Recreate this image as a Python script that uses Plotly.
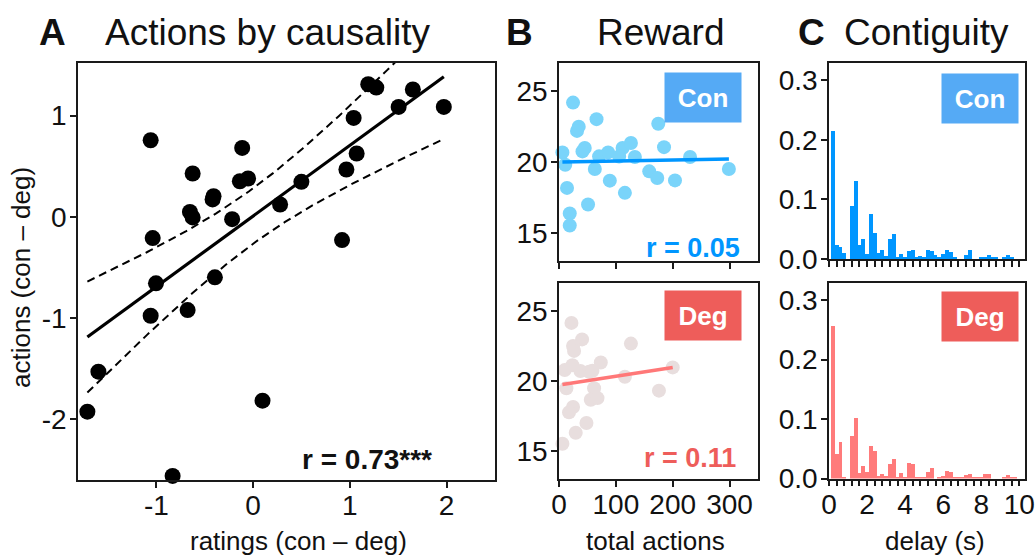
import numpy as np
import plotly.graph_objects as go

W, H = 1035, 559
FONT = "Liberation Sans, Arial, Helvetica, sans-serif"
INK = "#111111"
AXIS = "#1a1a1a"

# ---- A: causality ratings vs. actions (con - deg), z-scored ----
ratings_diff = [-1.059, -0.625, -0.113, -0.137, -0.052, -0.409, -0.419, -0.653, -0.625, -0.217,
                0.279, 0.499, -1.038, 0.919, 0.964, 1.070, 1.039, 1.190, 1.273, 1.504,
                1.651, 1.971, -1.004, -0.395, -1.059, -0.677, -1.599, -1.713, 0.097, -0.832]
actions_diff = [0.757, 0.428, 0.681, 0.352, 0.379, 0.204, 0.172, 0.049, -0.006, -0.023,
                0.122, 0.346, -0.210, -0.230, 0.468, 0.626, 0.977, 1.310, 1.277, 1.086,
                1.258, 1.086, -0.657, -0.598, -0.977, -0.921, -1.530, -1.925, -1.816, -2.560]
r_causality = "r = 0.73***"

# ---- B: total actions vs. reward ----
con_actions = [24.7, 66.0, 34.7, 31.7, 174.6, 6.0, 45.3, 41.3, 184.7, 70.5,
               86.4, 111.8, 126.5, 105.8, 133.5, 11.0, 63.0, 158.7, 172.8, 89.4,
               204.0, 14.1, 115.9, 51.1, 18.9, 18.9, 230.5, 298.8]
con_reward = [24.20, 23.03, 22.50, 22.20, 22.70, 20.68, 20.99, 20.75, 21.05, 20.40,
              20.68, 20.99, 21.34, 20.39, 20.35, 19.81, 19.50, 19.34, 18.87, 18.68,
              18.70, 18.17, 17.82, 17.00, 16.36, 15.51, 20.35, 19.50]
deg_actions = [21.9, 40.6, 24.7, 26.5, 126.5, 73.5, 10.0, 23.6, 37.7, 52.9,
               58.9, 115.9, 200.0, 13.0, 61.7, 175.8, 55.9, 67.7, 24.7, 17.6,
               48.3, 29.4, 6.0]
deg_reward = [24.15, 22.97, 22.50, 22.15, 22.67, 21.32, 20.78, 21.13, 20.71, 20.66,
              20.73, 20.30, 20.97, 19.48, 19.48, 19.31, 18.66, 18.78, 18.14, 17.76,
              17.00, 16.30, 15.52]
r_con = "r = 0.05"
r_deg = "r = 0.11"

# ---- C: action-outcome delay distributions (0.2 s bins) ----
delay_bins = [round(0.2 * k, 1) for k in range(1, 51)]
con_delay = [0.215, 0.024, 0.020, 0.010, 0.000, 0.089, 0.131, 0.024, 0.034, 0.009,
             0.076, 0.044, 0.010, 0.015, 0.005, 0.034, 0.042, 0.004, 0.008, 0.004,
             0.014, 0.015, 0.002, 0.005, 0.002, 0.015, 0.014, 0.007, 0.004, 0.009,
             0.015, 0.012, 0.002, 0.000, 0.000, 0.007, 0.015, 0.000, 0.000, 0.004,
             0.004, 0.007, 0.002, 0.002, 0.000, 0.004, 0.007, 0.002, 0.000, 0.000]
deg_delay = [0.256, 0.041, 0.061, 0.001, 0.000, 0.071, 0.102, 0.009, 0.021, 0.011,
             0.055, 0.046, 0.004, 0.007, 0.004, 0.024, 0.033, 0.002, 0.009, 0.002,
             0.026, 0.024, 0.002, 0.002, 0.001, 0.011, 0.017, 0.000, 0.002, 0.004,
             0.012, 0.011, 0.001, 0.001, 0.001, 0.006, 0.007, 0.002, 0.002, 0.002,
             0.007, 0.007, 0.000, 0.000, 0.000, 0.002, 0.006, 0.001, 0.001, 0.000]

CON_DOT, CON_LINE, CON_BOX = "#7ad4fa", "#0096ff", "#55aaf5"
DEG_DOT, DEG_LINE, DEG_BOX = "#e8dede", "#ff7878", "#ee5d5a"
CON_BAR, DEG_BAR = "#0096ff", "#ff7b7b"


def fit_line(x, y):
    x = np.asarray(x, float)
    y = np.asarray(y, float)
    slope, icpt = np.polyfit(x, y, 1)
    xs = np.linspace(x.min(), x.max(), 120)
    return x, y, xs, slope * xs + icpt, slope, icpt


fig = go.Figure()

# A: scatter, least-squares line and 95% confidence band
ax, ay, xs, ys, slope, icpt = fit_line(ratings_diff, actions_diff)
n = len(ax)
resid = ay - (slope * ax + icpt)
s_err = np.sqrt(np.sum(resid ** 2) / (n - 2))
sxx = np.sum((ax - ax.mean()) ** 2)
half = 2.048 * s_err * np.sqrt(1.0 / n + (xs - ax.mean()) ** 2 / sxx)
for band in (ys + half, ys - half):
    fig.add_trace(go.Scatter(x=xs, y=band, mode="lines", xaxis="x", yaxis="y",
                             line=dict(color="#000", width=2, dash="8px,5px"),
                             hoverinfo="skip", showlegend=False))
fig.add_trace(go.Scatter(x=xs, y=ys, mode="lines", xaxis="x", yaxis="y",
                         line=dict(color="#000", width=3.2), showlegend=False))
fig.add_trace(go.Scatter(x=ax, y=ay, mode="markers", xaxis="x", yaxis="y",
                         marker=dict(color="#000", size=16), cliponaxis=False,
                         showlegend=False))

# B: reward vs. total actions, one panel per condition
for xv, yv, dot, line, xa, ya in ((con_actions, con_reward, CON_DOT, CON_LINE, "x2", "y2"),
                                  (deg_actions, deg_reward, DEG_DOT, DEG_LINE, "x3", "y3")):
    bx, by, bxs, bys, _, _ = fit_line(xv, yv)
    fig.add_trace(go.Scatter(x=bx, y=by, mode="markers", xaxis=xa, yaxis=ya,
                             marker=dict(color=dot, size=14), cliponaxis=False,
                             showlegend=False))
    fig.add_trace(go.Scatter(x=bxs, y=bys, mode="lines", xaxis=xa, yaxis=ya,
                             line=dict(color=line, width=3.5), showlegend=False))

# C: delay histograms
fig.add_trace(go.Bar(x=delay_bins, y=con_delay, width=0.2, xaxis="x4", yaxis="y4",
                     marker=dict(color=CON_BAR, line=dict(width=0)), showlegend=False))
fig.add_trace(go.Bar(x=delay_bins, y=deg_delay, width=0.2, xaxis="x5", yaxis="y5",
                     marker=dict(color=DEG_BAR, line=dict(width=0)), showlegend=False))


def px_x(p):
    return p / W


def px_y(p):
    return 1 - p / H


axis_style = dict(showline=True, linecolor=AXIS, linewidth=1.5, mirror=True,
                  ticks="outside", ticklen=6, tickwidth=1.5, tickcolor=AXIS,
                  showgrid=False, zeroline=False, automargin=False,
                  tickfont=dict(family=FONT, size=28, color=INK))
xbase = dict(axis_style, ticklabelstandoff=-6)
ybase = dict(axis_style, ticklabelstandoff=-2)
minor_ticks = dict(dtick=0.4, tick0=0, ticks="outside", ticklen=6,
                   tickwidth=1.5, tickcolor=AXIS, showgrid=False)

dom_a = [px_x(78), px_x(495)]
dom_b = [px_x(559), px_x(758)]
dom_c = [px_x(829), px_x(1025)]
top_row = [px_y(261), px_y(63)]
bot_row = [px_y(479), px_y(283)]

fig.update_layout(
    template="none",
    width=W, height=H, margin=dict(l=0, r=0, t=0, b=0, pad=0), autosize=False,
    paper_bgcolor="white", plot_bgcolor="white", bargap=0, showlegend=False,
    font=dict(family=FONT, color=INK),
    xaxis=dict(xbase, domain=dom_a, anchor="y", range=[-1.81, 2.5],
               tickvals=[-1, 0, 1, 2], ticktext=["-1", "0", "1", "2"]),
    yaxis=dict(ybase, domain=[px_y(480), px_y(63)], anchor="x", range=[-2.6, 1.52],
               tickvals=[-2, -1, 0, 1], ticktext=["-2", "-1", "0", "1"]),
    xaxis2=dict(xbase, domain=dom_b, anchor="y2", range=[0, 350],
                tickvals=[0, 100, 200, 300], showticklabels=False),
    yaxis2=dict(ybase, domain=top_row, anchor="x2", range=[13, 27], tickvals=[15, 20, 25]),
    xaxis3=dict(xbase, domain=dom_b, anchor="y3", range=[0, 350],
                tickvals=[0, 100, 200, 300]),
    yaxis3=dict(ybase, domain=bot_row, anchor="x3", range=[13, 27], tickvals=[15, 20, 25]),
    xaxis4=dict(xbase, domain=dom_c, anchor="y4", range=[0, 10.3], dtick=2, tick0=0,
                showticklabels=False, minor=minor_ticks),
    yaxis4=dict(ybase, domain=[px_y(259), px_y(63)], anchor="x4", range=[0, 0.329],
                tickvals=[0, 0.1, 0.2, 0.3], tickformat=".1f"),
    xaxis5=dict(xbase, domain=dom_c, anchor="y5", range=[0, 10.3], dtick=2, tick0=0,
                minor=minor_ticks),
    yaxis5=dict(ybase, domain=[px_y(478.5), px_y(283)], anchor="x5", range=[0, 0.329],
                tickvals=[0, 0.1, 0.2, 0.3], tickformat=".1f"),
)

ann = []


def text(x, y, s, size, xanchor="center", bold=False, color=INK, angle=0):
    ann.append(dict(x=px_x(x), y=px_y(y), xref="paper", yref="paper", text=s,
                    showarrow=False, xanchor=xanchor, yanchor="middle", textangle=angle,
                    font=dict(family=FONT, size=size, color=color,
                              weight="bold" if bold else "normal")))


# panel headings
text(37, 32, "A", 37, "left", bold=True)
text(103, 32, "Actions by causality", 37, "left")
text(504, 32, "B", 37, "left", bold=True)
text(595, 32, "Reward", 37, "left")
text(796, 32, "C", 37, "left", bold=True)
text(842, 32, "Contiguity", 37, "left")

# axis titles
text(21, 278, "actions (con – deg)", 26, angle=-90)
text(298, 541, "ratings (con – deg)", 26)
text(655, 541, "total actions", 26)
text(935, 541, "delay (s)", 26)

# correlation labels
text(434, 459, r_causality, 28, "right", bold=True)
text(742, 248, r_con, 27, "right", bold=True, color=CON_LINE)
text(738, 458, r_deg, 27, "right", bold=True, color=DEG_BOX)

# condition tags
for cx, cy, label, bg in ((703, 97, "Con", CON_BOX), (980, 98, "Con", CON_BOX),
                          (703, 315.5, "Deg", DEG_BOX), (980, 316, "Deg", DEG_BOX)):
    ann.append(dict(x=px_x(cx), y=px_y(cy), xref="paper", yref="paper", text=label,
                    showarrow=False, xanchor="center", yanchor="middle",
                    width=76, height=49, bgcolor=bg, borderpad=0,
                    font=dict(family=FONT, size=26, color="white", weight="bold")))

fig.update_layout(annotations=ann)
fig.write_html("out.html")
